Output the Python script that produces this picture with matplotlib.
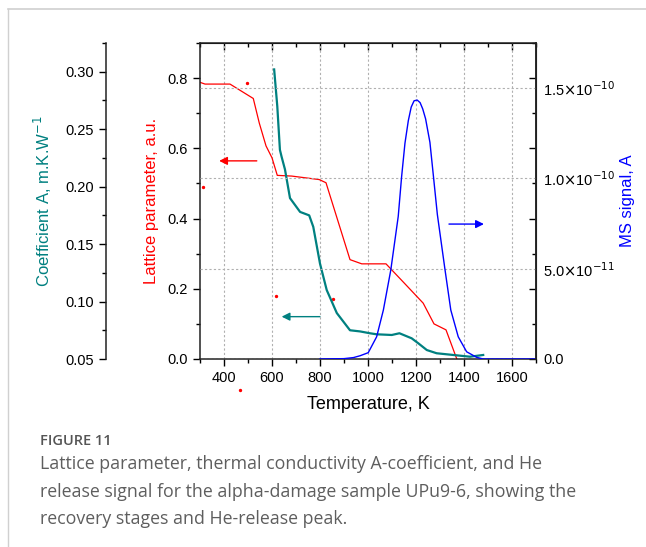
import matplotlib.pyplot as plt
from matplotlib.lines import Line2D
from matplotlib.ticker import MultipleLocator

plt.rcParams['font.family'] = ['Liberation Sans', 'DejaVu Sans']

# lattice parameter (red, a.u.)
lat_T = [300, 321, 425, 522, 547, 575, 600, 622, 682, 797, 825, 925, 974, 1075, 1150, 1230, 1275, 1325, 1370]
lat_v = [0.788, 0.783, 0.783, 0.742, 0.672, 0.607, 0.573, 0.523, 0.521, 0.511, 0.502, 0.283, 0.271, 0.271, 0.217, 0.159, 0.100, 0.083, 0.0]
lat_out_T = [312, 467, 497, 615, 853]
lat_out_v = [0.489, -0.089, 0.786, 0.180, 0.172]

# thermal conductivity A-coefficient (teal)
coef_T = [609, 622, 633, 640, 654, 675, 717, 755, 772, 800, 828, 870, 925, 967, 1008, 1036, 1099, 1131, 1182, 1210, 1245, 1286, 1355, 1425, 1480]
coef_v = [0.302, 0.270, 0.232, 0.226, 0.215, 0.190, 0.178, 0.175, 0.165, 0.133, 0.110, 0.090, 0.075, 0.074, 0.0724, 0.0715, 0.0709, 0.0724, 0.068, 0.0636, 0.0578, 0.055, 0.0535, 0.052, 0.0535]

# He release MS signal (blue, units of 1e-10 A)
ms_T = [800, 900, 940, 967, 1001, 1036, 1064, 1095, 1126, 1140, 1154, 1168, 1180, 1192, 1205, 1217, 1228, 1240, 1258, 1272, 1289, 1321, 1345, 1376, 1411, 1453, 1480, 1700]
ms_v = [0.0, 0.002, 0.008, 0.018, 0.035, 0.123, 0.271, 0.493, 0.79, 1.009, 1.195, 1.32, 1.395, 1.43, 1.434, 1.42, 1.385, 1.33, 1.20, 1.02, 0.80, 0.493, 0.271, 0.123, 0.040, 0.009, 0.0, 0.0]

ms_ticks = [0.0, 0.5e-10, 1.0e-10, 1.5e-10]
ms_labels = ['0.0', r'5.0$\times$10$^{-11}$', r'1.0$\times$10$^{-10}$', r'1.5$\times$10$^{-10}$']

TEAL, RED, BLUE = '#008080', '#ff0000', '#0000ff'

fig = plt.figure(figsize=(6.46, 5.47), dpi=100)
ax = fig.add_axes([200 / 646, 1 - 359 / 547, 336 / 646, 316 / 547])

# lattice on main axes
ax.plot(lat_T, lat_v, color=RED, lw=0.9)
ax.scatter(lat_out_T, lat_out_v, s=2, color=RED, clip_on=False)
ax.set_xlim(300, 1700)
ax.set_ylim(0, 0.9)
ax.xaxis.set_major_locator(MultipleLocator(200))
ax.xaxis.set_minor_locator(MultipleLocator(100))
ax.yaxis.set_major_locator(MultipleLocator(0.2))
ax.yaxis.set_minor_locator(MultipleLocator(0.1))
ax.tick_params(which='both', direction='out', labelsize=10.5, width=1)
ax.tick_params(which='major', length=5)
ax.tick_params(which='minor', length=3)
ax.set_xlabel('Temperature, K', fontsize=13, labelpad=8)
ax.set_ylabel('Lattice parameter, a.u.', color=RED, fontsize=12, labelpad=6)
ax.xaxis.grid(True, color='#b0b0b0', ls=(0, (2, 2)), lw=0.8)

top = ax.secondary_xaxis('top')
top.xaxis.set_major_locator(MultipleLocator(200))
top.xaxis.set_minor_locator(MultipleLocator(100))
top.tick_params(which='both', direction='in', labeltop=False, width=1)
top.tick_params(which='major', length=5)
top.tick_params(which='minor', length=3)

rgt = ax.secondary_yaxis('right')
rgt.yaxis.set_major_locator(MultipleLocator(0.2))
rgt.yaxis.set_minor_locator(MultipleLocator(0.1))
rgt.tick_params(which='both', direction='in', labelright=False, width=1)
rgt.tick_params(which='major', length=5)
rgt.tick_params(which='minor', length=3)

# coefficient axis, offset to the left
axc = ax.twinx()
axc.plot(coef_T, coef_v, color=TEAL, lw=1.6)
axc.set_ylim(0.05, 0.325)
axc.yaxis.set_ticks_position('left')
axc.yaxis.set_label_position('left')
for s in ['right', 'top', 'bottom']:
    axc.spines[s].set_visible(False)
axc.spines['left'].set_position(('axes', -0.28))
axc.yaxis.set_major_locator(MultipleLocator(0.05))
axc.yaxis.set_minor_locator(MultipleLocator(0.025))
axc.yaxis.set_major_formatter('{x:.2f}')
axc.tick_params(which='both', direction='out', labelsize=10.5, width=1)
axc.tick_params(which='major', length=5)
axc.tick_params(which='minor', length=3)
axc.set_ylabel('Coefficient A, m.K.W$^{-1}$', color=TEAL, fontsize=12, labelpad=8)

# MS signal axis
axm = ax.twinx()
axm.plot(ms_T, [v * 1e-10 for v in ms_v], color=BLUE, lw=1.0)
axm.set_ylim(0, 1.75e-10)
axm.set_yticks(ms_ticks, ms_labels)
axm.tick_params(axis='y', length=0, pad=5, labelsize=10.5)
for s in ['left', 'top', 'bottom']:
    axm.spines[s].set_visible(False)
axm.yaxis.grid(True, color='#b0b0b0', ls=(0, (2, 2)), lw=0.8)
axm.set_ylabel('MS signal, A', color=BLUE, fontsize=12, labelpad=4)

for a in [ax, axc, axm]:
    for sp in a.spines.values():
        sp.set_linewidth(1.1)
        sp.set_color('#222222')

# direction arrows
arrows = [(RED, (0.169, 0.627), (0.057, 0.627)),
          (TEAL, (0.357, 0.134), (0.243, 0.134)),
          (BLUE, (0.741, 0.427), (0.845, 0.427))]
for c, start, end in arrows:
    axm.annotate('', xy=end, xytext=start, xycoords='axes fraction',
                 arrowprops=dict(arrowstyle='-|>', color=c, lw=1.0,
                                 mutation_scale=12, shrinkA=0, shrinkB=0))

# page border and caption
fig.add_artist(Line2D([8 / 646, 1], [1 - 9 / 547, 1 - 9 / 547], color='#d0d0d0', lw=1.2))
fig.add_artist(Line2D([8 / 646, 8 / 646], [0, 1 - 9 / 547], color='#d0d0d0', lw=1.0))
fig.text(40 / 646, 1 - 441 / 547, 'FIGURE 11', family='Open Sans', fontsize=10.5,
         fontweight='semibold', color='#555555', va='center')
caption = ('Lattice parameter, thermal conductivity A-coefficient, and He\n'
           'release signal for the alpha-damage sample UPu9-6, showing the\n'
           'recovery stages and He-release peak.')
fig.text(40 / 646, 1 - 455 / 547, caption, family='Open Sans', fontsize=12.8,
         color='#5e5e5e', va='top', linespacing=1.68)

fig.savefig('out.png', dpi=100)
